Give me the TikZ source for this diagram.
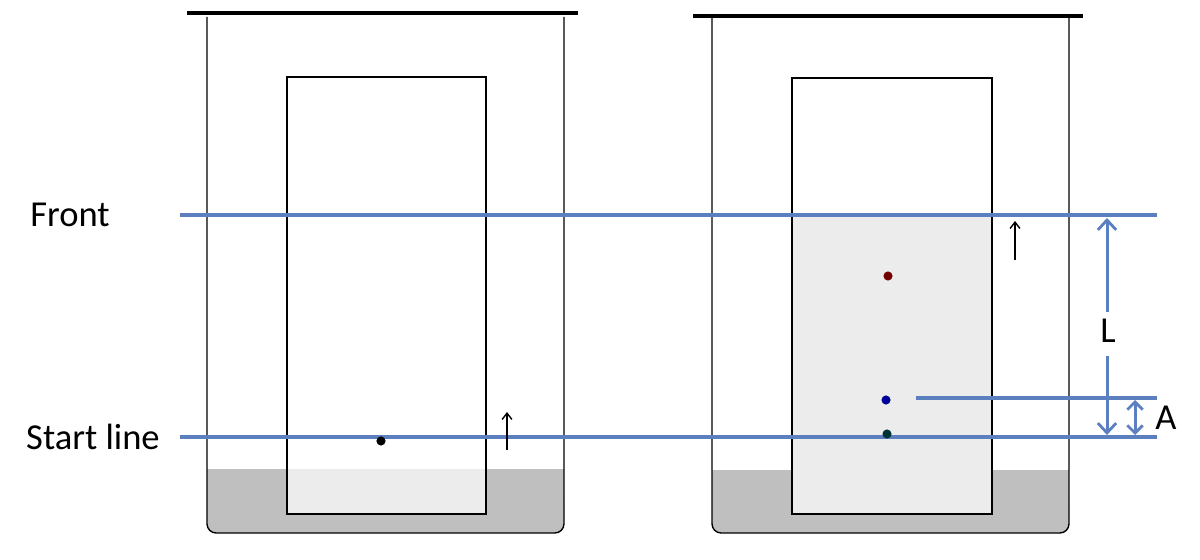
\documentclass[tikz,border=0pt]{standalone}
\usepackage{fontspec}
\setmainfont{Carlito}
\usetikzlibrary{arrows.meta}
\definecolor{lb}{HTML}{5B7FBF}
\begin{document}
\begin{tikzpicture}[x=0.05cm,y=-0.05cm,
  outl/.style={draw=black,line width=2pt},
  liq/.style={fill=gray!50},
  blue/.style={draw=lb,line width=4.3pt},
  lab/.style={font=\fontsize{52}{60}\selectfont,inner sep=0pt},
  dot/.style={circle,inner sep=0pt,minimum size=13pt},
  small/.style={line width=2pt,-{Straight Barb[length=9pt,width=14pt]}},
  barb/.style={-{Straight Barb[length=14pt,width=26pt,line width=4pt]}}]
\useasboundingbox (0,0) rectangle (1200,560);
% beaker 1
\fill[liq] (207,469) rectangle (564,510);
\fill[liq,rounded corners=13pt] (207,490) rectangle (564,533);
\draw[outl,rounded corners=13pt] (207,17) -- (207,533) -- (564,533) -- (564,17);
\draw[line width=7pt] (187,13) -- (578,13);
\fill[gray!15] (287,469) rectangle (486,514);
\draw[outl] (287,77) rectangle (486,514);
% beaker 2
\fill[liq] (712,470) rectangle (1069,510);
\fill[liq,rounded corners=13pt] (712,490) rectangle (1069,533);
\draw[outl,rounded corners=13pt] (712,17) -- (712,533) -- (1069,533) -- (1069,17);
\draw[line width=7pt] (693,16) -- (1083,16);
\fill[gray!15] (792,216) rectangle (992,514);
\draw[outl] (792,78) rectangle (992,514);
% lines
\coordinate (f1) at (180,215); \coordinate (f2) at (1157,215);
\coordinate (s1) at (180,437); \coordinate (s2) at (1157,437);
\coordinate (a1) at (916,398); \coordinate (a2) at (1157,398);
\draw[blue] (f1) -- (f2);
\draw[blue] (s1) -- (s2);
\draw[blue] (a1) -- (a2);
\node[lab] (front) at (70,215) {Front};
\node[lab] (start) at (93,437) {Start line};
% dots
\node[dot,fill=black] (d0) at (381,441) {};
\node[dot,fill=red!45!black] (d1) at (888,276) {};
\node[dot,fill=blue!60!black] (d2) at (886,400) {};
\node[dot,fill=teal!40!black] (d3) at (887,434) {};
% small arrows
\coordinate (sa1) at (507,450); \coordinate (sa2) at (507,412);
\coordinate (sb1) at (1015,260); \coordinate (sb2) at (1015,221);
\draw[small] (sa1) -- (sa2);
\draw[small] (sb1) -- (sb2);
% L
\node[lab] (L) at (1108,331) {L};
\coordinate (Lt) at (1107,218); \coordinate (Lb) at (1107,435);
\draw[blue,barb] (1107,312) -- (Lt);
\draw[blue,barb] (1107,356) -- (Lb);
% A
\coordinate (At) at (1135,400); \coordinate (Ab) at (1135,435);
\draw[blue,{Straight Barb[length=11pt,width=22pt,line width=4pt]}-{Straight Barb[length=11pt,width=22pt,line width=4pt]}] (At) -- (Ab);
\node[lab] (A) at (1166,418) {A};
\end{tikzpicture}
\end{document}
